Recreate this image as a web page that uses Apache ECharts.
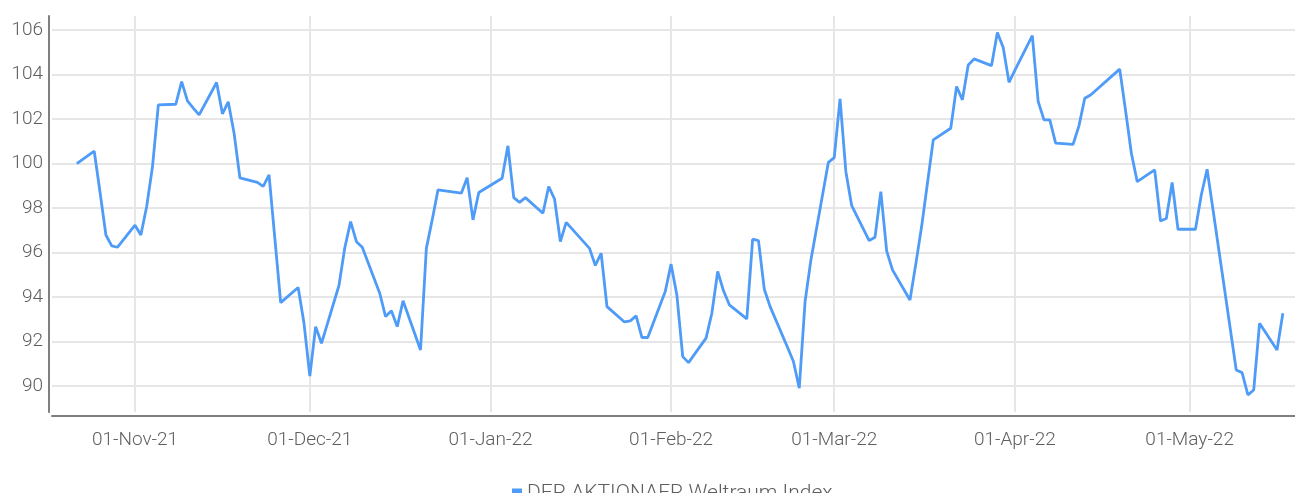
<!DOCTYPE html>
<html>
<head>
<meta charset="utf-8">
<script src="https://cdn.jsdelivr.net/npm/echarts@6/dist/echarts.min.js"></script>
<style>
  html, body { margin: 0; padding: 0; background: #fff; }
  #chart { width: 1295px; height: 493px; }
</style>
</head>
<body>
<div id="chart"></div>
<script>
// Handelstage (Xetra-Feiertage fehlen)
var dates = [
  '2021-10-22', '2021-10-25', '2021-10-26', '2021-10-27', '2021-10-28', '2021-10-29',
  '2021-11-01', '2021-11-02', '2021-11-03', '2021-11-04', '2021-11-05',
  '2021-11-08', '2021-11-09', '2021-11-10', '2021-11-11', '2021-11-12',
  '2021-11-15', '2021-11-16', '2021-11-17', '2021-11-18', '2021-11-19',
  '2021-11-22', '2021-11-23', '2021-11-24', '2021-11-25', '2021-11-26',
  '2021-11-29', '2021-11-30', '2021-12-01', '2021-12-02', '2021-12-03',
  '2021-12-06', '2021-12-07', '2021-12-08', '2021-12-09', '2021-12-10',
  '2021-12-13', '2021-12-14', '2021-12-15', '2021-12-16', '2021-12-17',
  '2021-12-20', '2021-12-21', '2021-12-22', '2021-12-23',
  '2021-12-27', '2021-12-28', '2021-12-29', '2021-12-30',
  '2022-01-03', '2022-01-04', '2022-01-05', '2022-01-06', '2022-01-07',
  '2022-01-10', '2022-01-11', '2022-01-12', '2022-01-13', '2022-01-14',
  '2022-01-17', '2022-01-18', '2022-01-19', '2022-01-20', '2022-01-21',
  '2022-01-24', '2022-01-25', '2022-01-26', '2022-01-27', '2022-01-28',
  '2022-01-31', '2022-02-01', '2022-02-02', '2022-02-03', '2022-02-04',
  '2022-02-07', '2022-02-08', '2022-02-09', '2022-02-10', '2022-02-11',
  '2022-02-14', '2022-02-15', '2022-02-16', '2022-02-17', '2022-02-18',
  '2022-02-21', '2022-02-22', '2022-02-23', '2022-02-24', '2022-02-25',
  '2022-02-28', '2022-03-01', '2022-03-02', '2022-03-03', '2022-03-04',
  '2022-03-07', '2022-03-08', '2022-03-09', '2022-03-10', '2022-03-11',
  '2022-03-14', '2022-03-15', '2022-03-16', '2022-03-17', '2022-03-18',
  '2022-03-21', '2022-03-22', '2022-03-23', '2022-03-24', '2022-03-25',
  '2022-03-28', '2022-03-29', '2022-03-30', '2022-03-31', '2022-04-01',
  '2022-04-04', '2022-04-05', '2022-04-06', '2022-04-07', '2022-04-08',
  '2022-04-11', '2022-04-12', '2022-04-13', '2022-04-14',
  '2022-04-19', '2022-04-20', '2022-04-21', '2022-04-22',
  '2022-04-25', '2022-04-26', '2022-04-27', '2022-04-28', '2022-04-29',
  '2022-05-02', '2022-05-03', '2022-05-04', '2022-05-05', '2022-05-06',
  '2022-05-09', '2022-05-10', '2022-05-11', '2022-05-12', '2022-05-13',
  '2022-05-16', '2022-05-17'
];

var indexValues = [
  100.00, 100.56, 98.70, 96.79, 96.30, 96.24,
  97.23, 96.79, 98.07, 99.87, 102.64,
  102.67, 103.69, 102.82, 102.50, 102.19,
  103.65, 102.24, 102.78, 101.37, 99.36,
  99.16, 98.98, 99.49, 96.63, 93.75,
  94.43, 92.82, 90.45, 92.67, 91.92,
  94.52, 96.22, 97.39, 96.49, 96.24,
  94.17, 93.12, 93.38, 92.67, 93.83,
  91.62, 96.19, 97.47, 98.82,
  98.67, 99.37, 97.47, 98.70,
  99.34, 100.80, 98.47, 98.26, 98.47,
  97.77, 98.97, 98.41, 96.49, 97.36,
  96.48, 96.19, 95.42, 95.97, 93.57,
  92.88, 92.93, 93.15, 92.18, 92.18,
  94.25, 95.48, 94.08, 91.32, 91.05,
  92.15, 93.27, 95.15, 94.28, 93.65,
  93.02, 96.60, 96.54, 94.35, 93.57,
  91.73, 91.10, 89.90, 93.80, 95.67,
  100.06, 100.27, 102.91, 99.64, 98.11,
  96.54, 96.69, 98.74, 96.08, 95.22,
  93.87, 95.48, 97.17, 99.12, 101.07,
  101.59, 103.47, 102.87, 104.44, 104.71,
  104.41, 105.90, 105.22, 103.66, 104.19,
  105.76, 102.80, 101.97, 101.97, 100.92,
  100.87, 101.70, 102.94, 103.09,
  104.25, 102.39, 100.47, 99.19,
  99.72, 97.42, 97.53, 99.15, 97.05,
  97.05, 98.59, 99.75, 97.95, 96.14,
  90.72, 90.60, 89.60, 89.82, 92.82,
  91.62, 93.27
];

var seriesName = 'DER AKTIONAER Weltraum Index';
var monthNames = ['Jan', 'Feb', 'Mar', 'Apr', 'May', 'Jun', 'Jul', 'Aug', 'Sep', 'Oct', 'Nov', 'Dec'];

var labelFont = "Roboto, sans-serif";
var labelColor = '#5e5e5e';

var chart = echarts.init(document.getElementById('chart'));

var points = dates.map(function (d, i) {
    return [d, indexValues[i]];
});

function pad(n) {
    return n < 10 ? '0' + n : '' + n;
}

var option = {
    animation: false,
    grid: {
        left: 52,
        right: 0,
        top: 16,
        bottom: 81
    },
    legend: {
        data: [seriesName],
        left: 507,
        top: 478,
        icon: 'rect',
        itemWidth: 10,
        itemHeight: 10,
        itemGap: 20,
        textStyle: {
            fontFamily: labelFont,
            fontWeight: 300,
            fontSize: 21,
            color: labelColor
        }
    },
    xAxis: {
        type: 'time',
        min: '2021-10-17 18:00',
        max: '2022-05-19 02:00',
        offset: 4,
        splitNumber: 7,
        axisLine: {
            show: true,
            lineStyle: { color: '#7f7f7f', width: 2 }
        },
        axisTick: { show: false },
        splitLine: {
            show: true,
            showMinLine: false,
            showMaxLine: false,
            lineStyle: { color: '#e6e6e6', width: 2 }
        },
        axisLabel: {
            showMinLabel: false,
            showMaxLabel: false,
            margin: 15,
            fontFamily: labelFont,
            fontWeight: 300,
            fontSize: 19,
            color: labelColor,
            formatter: function (value) {
                var d = new Date(value);
                return pad(d.getDate()) + '-' + monthNames[d.getMonth()] + '-' + pad(d.getFullYear() % 100);
            }
        }
    },
    yAxis: {
        type: 'value',
        min: 88.83,
        max: 106.64,
        splitNumber: 9,
        offset: 3,
        axisLine: {
            show: true,
            lineStyle: { color: '#7f7f7f', width: 2 }
        },
        axisTick: { show: false },
        splitLine: {
            show: true,
            showMinLine: false,
            showMaxLine: false,
            lineStyle: { color: '#e6e6e6', width: 2 }
        },
        axisLabel: {
            showMinLabel: false,
            showMaxLabel: false,
            margin: 6,
            fontFamily: labelFont,
            fontWeight: 300,
            fontSize: 19,
            color: labelColor,
            formatter: function (value) {
                return Math.abs(value - Math.round(value)) < 0.001 ? String(Math.round(value)) : '';
            }
        }
    },
    series: [{
        name: seriesName,
        type: 'line',
        data: points,
        symbol: 'none',
        color: '#4e9bf8',
        lineStyle: {
            width: 2.8
        }
    }]
};

chart.setOption(option);
</script>
</body>
</html>
